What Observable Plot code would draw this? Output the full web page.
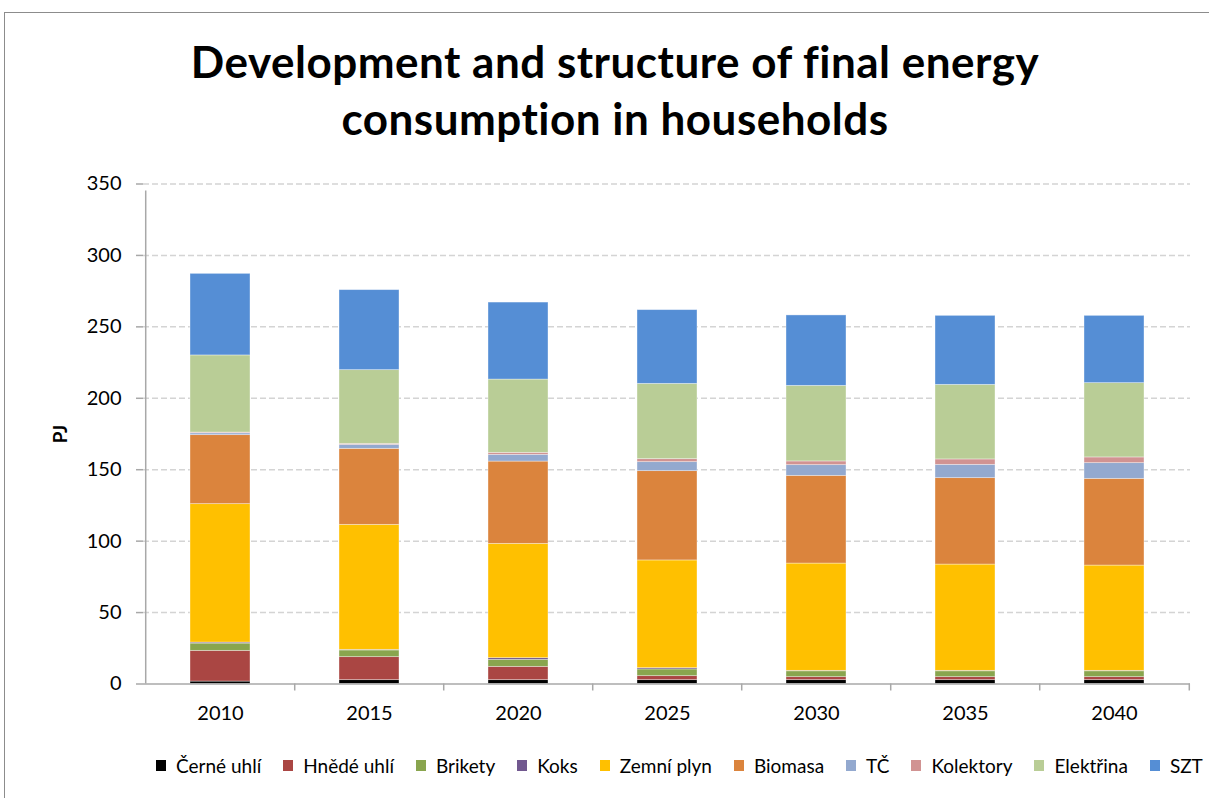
<!DOCTYPE html>
<html>
<head>
<meta charset="utf-8">
<script src="https://cdn.jsdelivr.net/npm/d3@7"></script>
<script src="https://cdn.jsdelivr.net/npm/@observablehq/plot@0.6"></script>
<style>
  html, body { margin: 0; padding: 0; background: #fff; }
  body { width: 1209px; height: 798px; position: relative; overflow: hidden; font-family: Lato, "Open Sans", sans-serif; }
  #frame { position: absolute; z-index: 5; pointer-events: none; left: 4px; top: 12px; width: 1300px; height: 900px; border-left: 1.5px solid #8c8c8c; border-top: 1.5px solid #8c8c8c; box-sizing: border-box; }
  #title { position: absolute; top: 32.5px; left: 0; width: 1230px; text-align: center; font-weight: 700; font-size: 44px; letter-spacing: 0.5px; line-height: 57px; color: #000; }
  #chart { position: absolute; left: 0; top: 160px; }
  #legend { position: absolute; top: 754px; left: 156px; display: flex; white-space: nowrap; font-size: 19px; color: #000; }
  .item { display: flex; align-items: center; margin-right: 22px; }
  .sw { width: 10px; height: 11px; margin-right: 10px; flex: none; }
</style>
</head>
<body>
<div id="frame"></div>
<div id="title">Development and structure of final energy<br>consumption in households</div>
<div id="chart"></div>
<div id="legend"></div>
<script>
// ---- data (PJ) ----
const years = ["2010", "2015", "2020", "2025", "2030", "2035", "2040"];
const seriesNames = ["Černé uhlí", "Hnědé uhlí", "Brikety", "Koks", "Zemní plyn", "Biomasa", "TČ", "Kolektory", "Elektřina", "SZT"];
const seriesColors = ["#000000", "#AA4643", "#89A54E", "#71588F", "#FFC000", "#DB843D", "#93A9CF", "#D19392", "#B9CD96", "#558ED5"];
const cerneUhli = [1.7, 2.7, 2.7, 2.7, 2.7, 2.7, 2.7];
const hnedeUhli = [21.5, 16.1, 9.3, 2.8, 2.1, 2.1, 2.1];
const brikety   = [5.1, 4.7, 4.9, 4.7, 4.1, 4.1, 4.1];
const koks      = [0.7, 0.4, 1.2, 0.9, 0.3, 0.3, 0.3];
const zemniPlyn = [96.9, 87.5, 80.0, 75.4, 75.1, 74.4, 73.7];
const biomasa   = [48.3, 53.2, 57.6, 62.5, 61.4, 60.5, 60.7];
const tc        = [1.3, 2.8, 4.7, 6.3, 7.5, 9.3, 11.0];
const kolektory = [0.5, 0.7, 1.4, 2.1, 2.6, 3.8, 4.0];
const elektrina = [54.0, 51.6, 51.3, 52.7, 52.9, 52.2, 52.0];
const szt       = [57.1, 56.0, 53.9, 51.6, 49.3, 48.3, 47.1];
const yTicks = [0, 50, 100, 150, 200, 250, 300, 350];
const yLabel = "PJ";

const seriesValues = [cerneUhli, hnedeUhli, brikety, koks, zemniPlyn, biomasa, tc, kolektory, elektrina, szt];
const table = [];
years.forEach((yr, i) => {
  seriesNames.forEach((s, k) => table.push({year: yr, series: s, value: seriesValues[k][i]}));
});

// ---- layout ----
const W = 1209, H = 580;
const mL = 143, mR = 19, mT = 23.5, mB = 56.5;
const step = (W - mL - mR) / years.length;
const axisGray = "#a8a8a8";

const chart = Plot.plot({
  width: W, height: H,
  marginLeft: mL, marginRight: mR, marginTop: mT, marginBottom: mB,
  style: {fontFamily: "Lato, 'Open Sans', sans-serif", fontSize: "20px", color: "#000", background: "#fff"},
  x: {domain: years, paddingInner: 0.6, paddingOuter: 0.3, label: null},
  y: {domain: [0, 350], label: null},
  color: {domain: seriesNames, range: seriesColors},
  marks: [
    Plot.gridY(yTicks.filter(d => d > 0), {stroke: "#d4d4d4", strokeOpacity: 1, strokeWidth: 1.5, strokeDasharray: "6,3"}),
    Plot.barY(table, {x: "year", y: "value", fill: "series", stroke: "#ffffff", strokeOpacity: 0.45, strokeWidth: 0.8}),
    // category boundary ticks below the x axis
    Plot.ruleX(years.slice(1), {x: d => d, dx: -step / 2, y1: 0, y2: 0, insetBottom: -7, stroke: axisGray, strokeWidth: 1.5}),
    Plot.ruleX(years.slice(-1), {x: d => d, dx: step / 2, y1: 0, y2: 0, insetBottom: -7, stroke: axisGray, strokeWidth: 1.5}),
    // y axis line (left frame edge, extending below zero)
    Plot.ruleX(years.slice(0, 1), {x: d => d, dx: -step / 2, y1: 0, y2: 350, insetBottom: -7, stroke: axisGray, strokeWidth: 1.5}),
    // x axis line
    Plot.ruleY([0], {stroke: axisGray, strokeWidth: 1.5}),
    Plot.axisY({ticks: yTicks, tickSize: 7, tickPadding: 15, stroke: axisGray, strokeWidth: 1.5, fill: "#000", fontSize: 20, label: null}),
    Plot.axisX({tickSize: 0, tickPadding: 22, fill: "#000", fontSize: 20, label: null}),
    Plot.text([yLabel], {frameAnchor: "left", textAnchor: "middle", rotate: -90, dx: -83, fontWeight: "bold", fontSize: 19, fill: "#000"})
  ]
});
document.getElementById("chart").appendChild(chart);

// ---- legend ----
const legend = document.getElementById("legend");
seriesNames.forEach((s, k) => {
  const item = document.createElement("div");
  item.className = "item";
  const sw = document.createElement("span");
  sw.className = "sw";
  sw.style.background = seriesColors[k];
  const lab = document.createElement("span");
  lab.textContent = s;
  item.appendChild(sw);
  item.appendChild(lab);
  legend.appendChild(item);
});
</script>
</body>
</html>
